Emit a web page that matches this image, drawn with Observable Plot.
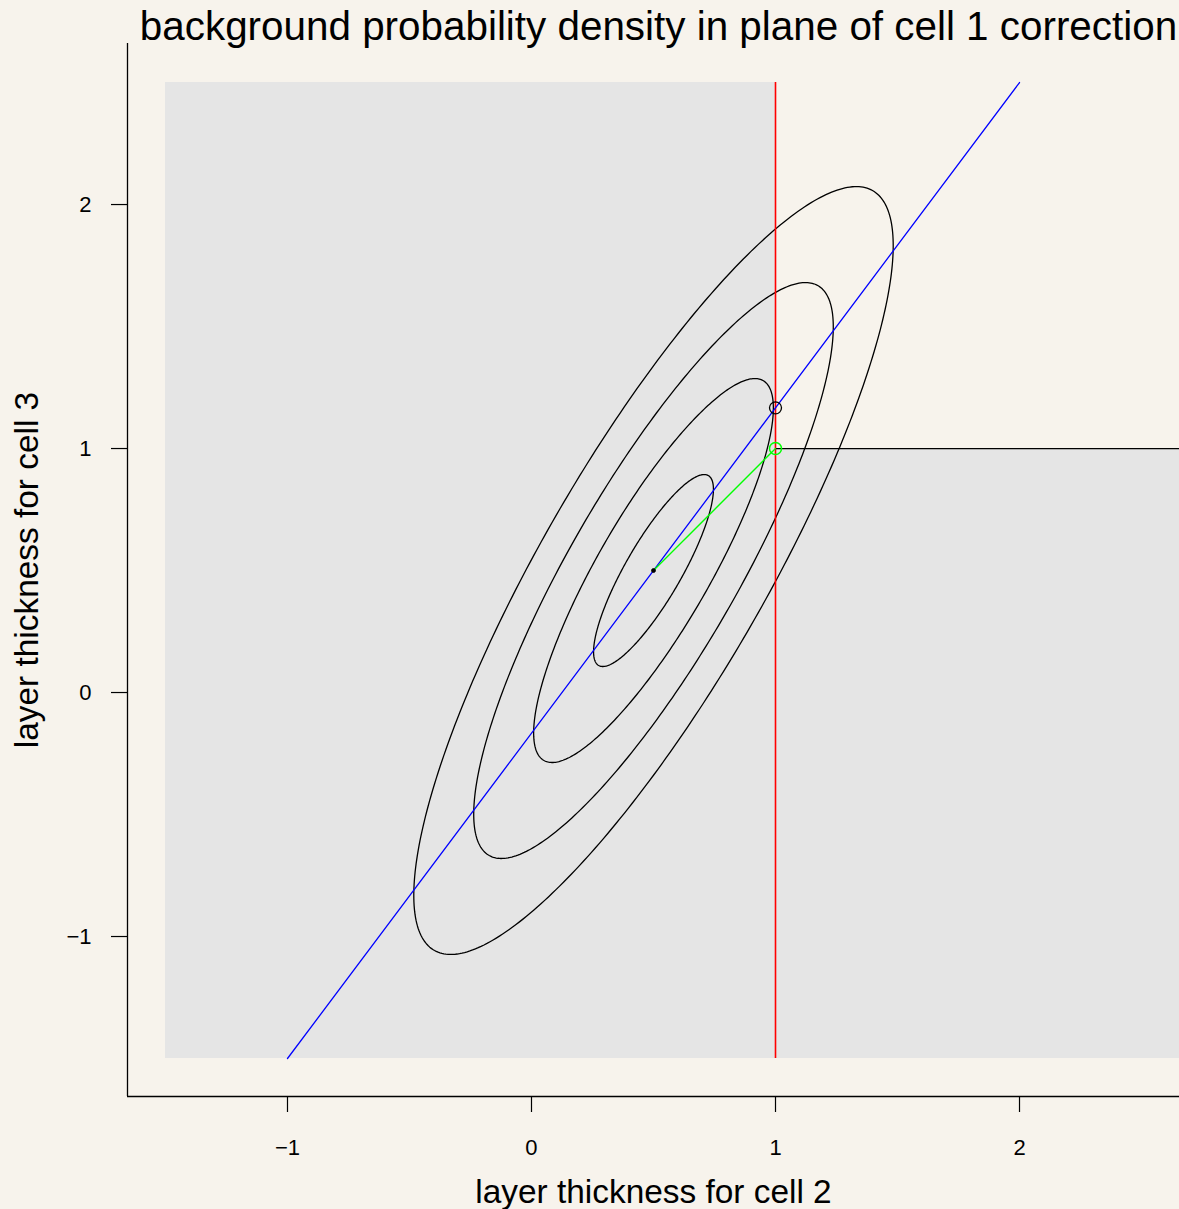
<!DOCTYPE html>
<html>
<head>
<meta charset="utf-8">
<script src="https://cdn.jsdelivr.net/npm/d3@7"></script>
<script src="https://cdn.jsdelivr.net/npm/@observablehq/plot@0.6"></script>
<style>
  html, body { margin: 0; padding: 0; background: #F7F3EC; overflow: hidden; }
  #chart svg { display: block; }
</style>
</head>
<body>
<div id="chart"></div>
<script>
// ---- data ----
const titleText = "background probability density in plane of cell 1 correction";
const xLabel = "layer thickness for cell 2";
const yLabel = "layer thickness for cell 3";
const xTicks = [-1, 0, 1, 2];
const yTicks = [-1, 0, 1, 2];

// shaded (excluded) regions
const regionX1 = [-1.5, 1];
const regionX2 = [1, 3];
const regionY1 = [-1.5, -1.5];
const regionY2 = [2.5, 1];

// background mean and spread (bivariate normal), contour levels in std devs
const meanX = 0.5, meanY = 0.5;
const sigmaX = 0.2456, sigmaY = 0.3934, rho = 0.846;
const contourLevels = [1, 2, 3, 4];

// constraint line x = 1 (red)
const constraintX = [1];
const constraintY = [-1.5, 2.5];

// blue line
const blueX = [-1, 2];
const blueY = [-1.5, 2.5];

// horizontal boundary at y = 1
const boundaryY = [1];
const boundaryX = [1, 3];

// green correction vector
const greenX = [0.5, 1];
const greenY = [0.5, 1];

// points
const blackPointX = [1], blackPointY = [1.1667];
const greenPointX = [1], greenPointY = [1];
const centerX = [0.5], centerY = [0.5];

// ---- build tables ----
const regions = regionX1.map((d, i) => ({x1: d, x2: regionX2[i], y1: regionY1[i], y2: regionY2[i]}));
const ellipses = [];
for (const k of contourLevels) {
  const n = 360;
  for (let i = 0; i <= n; i++) {
    const t = (2 * Math.PI * i) / n;
    const u = Math.cos(t), v = Math.sin(t);
    ellipses.push({
      k,
      x: meanX + k * sigmaX * u,
      y: meanY + k * sigmaY * (rho * u + Math.sqrt(1 - rho * rho) * v)
    });
  }
}
const blue = blueX.map((d, i) => ({x: d, y: blueY[i]}));
const green = greenX.map((d, i) => ({x: d, y: greenY[i]}));
const blackPts = blackPointX.map((d, i) => ({x: d, y: blackPointY[i]}));
const greenPts = greenPointX.map((d, i) => ({x: d, y: greenPointY[i]}));
const centerPts = centerX.map((d, i) => ({x: d, y: centerY[i]}));

const font = "'Liberation Sans', Arial, Helvetica, sans-serif";
const W = 1179, H = 1209;
const mL = 127, mR = 0, mT = 43, mB = 113;
const xDomain = [-1.6557, 2.6557];
const yDomain = [-1.6557, 2.66];
const fmt = d => (d < 0 ? "\u2212" : "") + Math.abs(d);

const chart = Plot.plot({
  width: W,
  height: H,
  marginLeft: mL,
  marginRight: mR,
  marginTop: mT,
  marginBottom: mB,
  style: {background: "#F7F3EC", color: "black", fontFamily: font, fontSize: "22px"},
  x: {domain: xDomain},
  y: {domain: yDomain},
  marks: [
    Plot.rect(regions, {x1: "x1", x2: "x2", y1: "y1", y2: "y2", fill: "#E5E5E5", clip: true}),
    Plot.line(ellipses, {x: "x", y: "y", z: "k", stroke: "black", strokeWidth: 1.3}),
    Plot.ruleX(constraintX, {y1: constraintY[0], y2: constraintY[1], stroke: "#FF0000", strokeWidth: 1.6}),
    Plot.line(blue, {x: "x", y: "y", stroke: "#0000FF", strokeWidth: 1.3}),
    Plot.ruleY(boundaryY, {x1: boundaryX[0], x2: boundaryX[1], stroke: "black", strokeWidth: 1.3, clip: true}),
    Plot.line(green, {x: "x", y: "y", stroke: "#00FF00", strokeWidth: 1.4}),
    Plot.dot(centerPts, {x: "x", y: "y", r: 2, fill: "black", stroke: "black", strokeWidth: 0.8}),
    Plot.dot(blackPts, {x: "x", y: "y", r: 6, stroke: "black", fill: "none", strokeWidth: 1.3}),
    Plot.dot(greenPts, {x: "x", y: "y", r: 6, stroke: "#00FF00", fill: "none", strokeWidth: 1.5}),
    // axes
    Plot.axisX({ticks: xTicks, tickFormat: fmt, tickSize: 16, tickPadding: 27, fontSize: 22, label: null, strokeWidth: 1.2}),
    Plot.axisY({ticks: yTicks, tickFormat: fmt, tickSize: 16, tickPadding: 20, fontSize: 22, label: null, strokeWidth: 1.2}),
    // L-shaped box
    Plot.ruleX([xDomain[0]], {stroke: "black", strokeWidth: 1.3}),
    Plot.ruleY([yDomain[0]], {stroke: "black", strokeWidth: 1.3}),
    // title and axis labels
    Plot.text([titleText], {frameAnchor: "top", text: d => d, fontSize: 40.4, textAnchor: "middle", lineAnchor: "bottom", dy: -4, dx: 5, fill: "black"}),
    Plot.text([xLabel], {frameAnchor: "bottom", text: d => d, fontSize: 33.4, textAnchor: "middle", lineAnchor: "bottom", dy: 106, fill: "black"}),
    Plot.text([yLabel], {frameAnchor: "left", text: d => d, fontSize: 33.4, rotate: -90, textAnchor: "middle", lineAnchor: "bottom", dx: -90, fill: "black"})
  ]
});
document.getElementById("chart").appendChild(chart);
</script>
</body>
</html>
